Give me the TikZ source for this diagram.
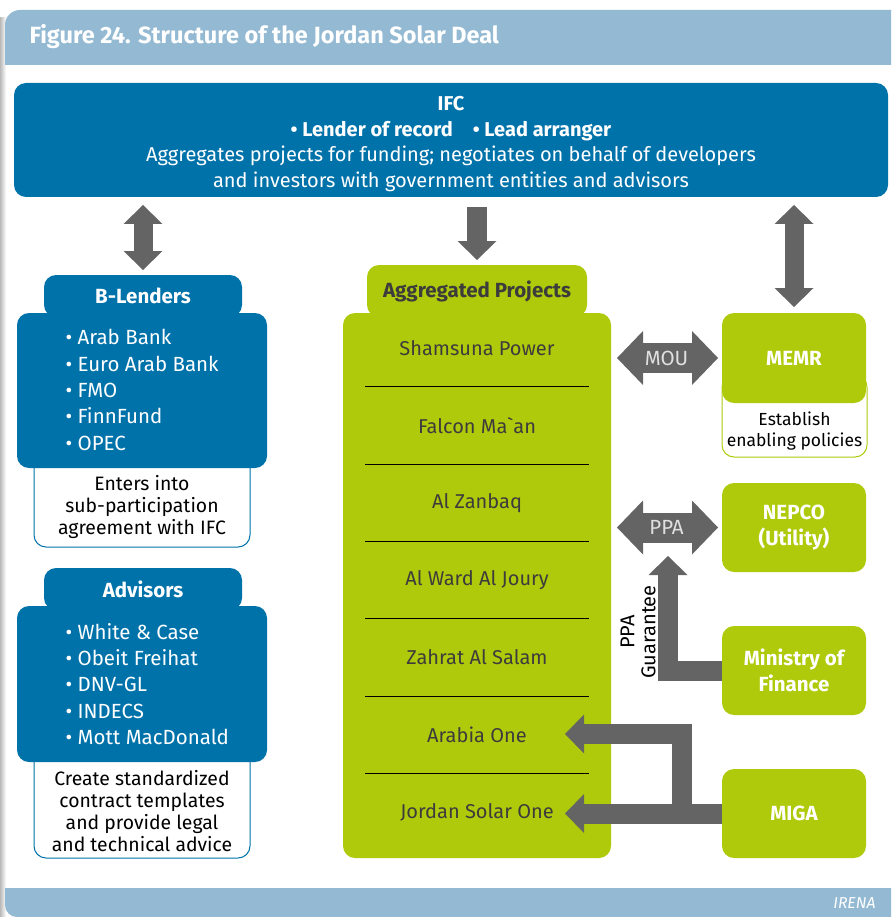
\documentclass[tikz,border=0pt]{standalone}
\usepackage{fontspec}
\setmainfont{Fira Sans}
\usepackage{tikz}
\usetikzlibrary{arrows.meta}

\definecolor{ifcblue}{RGB}{0,114,170}
\definecolor{projgreen}{RGB}{175,202,11}
\definecolor{arrowgray}{RGB}{100,100,100}
\definecolor{bandblue}{RGB}{147,185,211}
\definecolor{darktext}{RGB}{60,60,60}

\begin{document}
\begin{tikzpicture}[x=1pt,y=-1pt,
    panel/.style={rounded corners=12pt, inner sep=0pt, outer sep=0pt},
    bluepanel/.style={panel, fill=ifcblue, text=white},
    greenpanel/.style={panel, fill=projgreen, text=white},
    notepanel/.style={panel, fill=white, draw=#1, line width=1pt},
    bodyfont/.style={font=\fontsize{20}{25.5}\selectfont},
    notefont/.style={font=\fontsize{19.4}{21.7}\selectfont},
    listfont/.style={font=\fontsize{20.5}{26.4}\selectfont},
    headfont/.style={font=\fontsize{20.5}{26}\selectfont\bfseries},
    tipsmall/.tip={Triangle[length=19pt,width=39pt,line width=0pt]},
    tipwide/.tip={Triangle[length=26pt,width=54pt,line width=0pt]},
    fatarrow/.style={draw=arrowgray, line width=20pt, -tipsmall},
    fatdouble/.style={draw=arrowgray, line width=19pt, tipsmall-tipsmall},
    widedouble/.style={draw=arrowgray, line width=30pt, tipwide-tipwide},
    arrowtext/.style={text=white!88!black, font=\fontsize{20.5}{22}\selectfont}]
    \useasboundingbox (0,0) rectangle (891,917);

    % 边框
    \shade[left color=gray!55, right color=white] (0,18) rectangle (6,917);
    \fill[bandblue] (5,65) [rounded corners=15pt] -- (5,10) [sharp corners] -- (891,10) -- (891,65) -- cycle;
    \node[anchor=west, text=white, font=\fontsize{23.5}{26}\selectfont\bfseries] (title) at (26,37) {Figure 24. Structure of the Jordan Solar Deal};
    \fill[bandblue] (891,888) -- (5,888) [rounded corners=12pt] -- (5,917) [sharp corners] -- (891,917) -- cycle;
    \node[anchor=east, text=white, font=\fontsize{15.8}{18}\selectfont\itshape] (irena) at (879,903) {IRENA};

    % IFC
    \node[bluepanel, minimum width=874pt, minimum height=114pt] (ifc) at (451,140) {};
    \node[bodyfont, text=white, align=center] (ifctext) at (451,144)
        {\textbf{IFC}\\\textbf{• Lender of record\quad • Lead arranger}\\Aggregates projects for funding; negotiates on behalf of developers\\and investors with government entities and advisors};

    % B-Lenders
    \node[notepanel=ifcblue, minimum width=216pt, minimum height=97pt] (blnote) at (142,498.5) {};
    \node[notefont, align=center] (bltext) at (142,507) {Enters into\\sub-participation\\agreement with IFC};
    \node[bluepanel, headfont, minimum width=198pt, minimum height=42pt] (bltab) at (143,296) {B-Lenders};
    \node[bluepanel, minimum width=250pt, minimum height=155pt] (blbody) at (142,390.5) {};
    \node[anchor=west, align=left, text=white, listfont] (bllist) at (62,390)
        {• Arab Bank\\• Euro Arab Bank\\• FMO\\• FinnFund\\• OPEC};

    % Advisors
    \node[notepanel=ifcblue, minimum width=216pt, minimum height=113pt] (adnote) at (142,801.5) {};
    \node[notefont, align=center] (adtext) at (142,811) {Create standardized\\contract templates\\and provide legal\\and technical advice};
    \node[bluepanel, headfont, minimum width=198pt, minimum height=42pt] (adtab) at (143,589) {Advisors};
    \node[bluepanel, minimum width=250pt, minimum height=156pt] (adbody) at (142,684) {};
    \node[anchor=west, align=left, text=white, listfont] (adlist) at (62,684)
        {• White \& Case\\• Obeit Freihat\\• DNV-GL\\• INDECS\\• Mott MacDonald};

    % Aggregated Projects
    \node[greenpanel, headfont, text=darktext, minimum width=220pt, minimum height=52pt] (aggtab) at (477,291) {Aggregated Projects};
    \node[greenpanel, minimum width=268pt, minimum height=545pt] (aggbody) at (477,585.5) {};
    \foreach \i in {1,...,6}
        \draw[black, line width=1pt] (365,{309.3+77.4*\i}) -- (589,{309.3+77.4*\i});
    \foreach \proj [count=\i] in {Shamsuna Power,Falcon Ma\textasciigrave an,Al Zanbaq,Al Ward Al Joury,Zahrat Al Salam,Arabia One,Jordan Solar One}
        \node[bodyfont, text=darktext] (p\i) at (477,{270.6+77.4*\i}) {\proj};

    % MEMR, NEPCO, Ministry of Finance, MIGA
    \node[notepanel=projgreen, minimum width=145pt, minimum height=82pt] (memrnote) at (794.5,416) {};
    \node[notefont, font=\fontsize{17.5}{21.7}\selectfont, align=center] (memrtext) at (794.5,431) {Establish\\enabling policies};
    \node[greenpanel, headfont, minimum width=144pt, minimum height=90pt] (memr) at (794,358) {MEMR};
    \node[greenpanel, headfont, align=center, minimum width=144pt, minimum height=89pt] (nepco) at (794,527.5) {NEPCO\\(Utility)};
    \node[greenpanel, headfont, align=center, minimum width=144pt, minimum height=89pt] (mof) at (794,670.5) {Ministry of\\Finance};
    \node[greenpanel, headfont, minimum width=144pt, minimum height=89pt] (miga) at (794,813.5) {MIGA};

    % 箭头
    \draw[fatdouble, shorten <=8pt, shorten >=5pt] (ifc.south -| bltab.north) -- (bltab.north);
    \draw[fatarrow, shorten <=10pt, shorten >=5pt] (ifc.south -| aggtab.north) -- (aggtab.north);
    \draw[fatdouble, shorten <=8pt, shorten >=6pt] (ifc.south -| memr.north) -- (memr.north);
    \draw[widedouble, shorten <=6pt, shorten >=4pt] (aggbody.east |- memr.west) -- (memr.west) node[midway, arrowtext] (mou) {MOU};
    \draw[widedouble, shorten <=6pt, shorten >=4pt] (aggbody.east |- nepco.west) -- (nepco.west) node[midway, arrowtext] (ppa) {PPA};

    \coordinate (guartip) at (668,556);
    \draw[fatarrow] (mof.west) -| (guartip);
    \node[rotate=90, align=center, font=\fontsize{20}{21}\selectfont] (guartext) at (638,632) {PPA\\Guarantee};

    \coordinate (jsotip) at (565,813.5);
    \coordinate (aotip) at (565,734);
    \coordinate (migasplit) at (682,813.5);
    \draw[fatarrow] (miga.west) -- (jsotip);
    \draw[fatarrow] (migasplit) |- (aotip);

\end{tikzpicture}
\end{document}
